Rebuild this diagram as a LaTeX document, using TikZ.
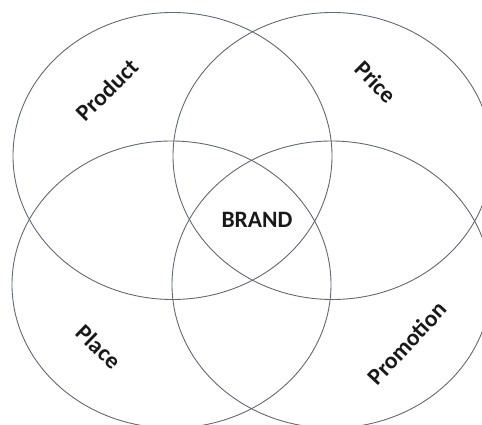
\documentclass[tikz,border=0pt]{standalone}
\usepackage{fontspec}
\setmainfont{Carlito}
\begin{document}
\begin{tikzpicture}[x=1pt,y=-1pt,
  ring/.style={draw=ringgray, line width=0.9pt},
  lbl/.style={font=\bfseries\fontsize{23.5}{26}\selectfont, text=black!90, inner sep=0pt}]
\definecolor{ringgray}{RGB}{100,104,114}
\useasboundingbox (0,0) rectangle (482,425);
\clip (0,0) rectangle (482,425);
\fill[white] (0,0) rectangle (482,425);
\draw[ring] (172.5,156) ellipse [x radius=159.5, y radius=143.5];
\draw[ring] (332.5,156) ellipse [x radius=159.5, y radius=143.5];
\draw[ring] (171.5,284.5) ellipse [x radius=159.5, y radius=143.5];
\draw[ring] (331.5,284.5) ellipse [x radius=159.5, y radius=143.5];
\node[lbl, rotate=45] (product) at (107,90) {Product};
\node[lbl, rotate=-45] (price) at (376,82) {Price};
\node[lbl, rotate=-44] (place) at (99,347) {Place};
\node[lbl, rotate=47] (promotion) at (407,343) {Promotion};
\node[lbl] (brand) at (257,220) {BRAND};
\end{tikzpicture}
\end{document}
